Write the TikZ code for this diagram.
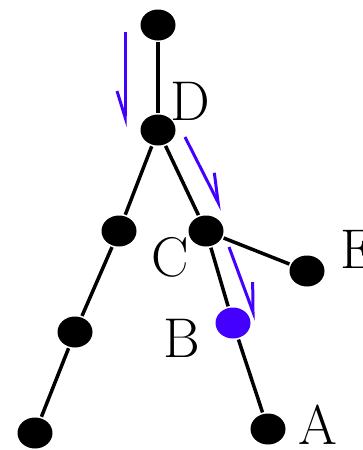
\documentclass[tikz,border=0pt]{standalone}
\usetikzlibrary{arrows.meta,shapes.geometric}
\definecolor{moveblue}{RGB}{68,0,255}
\tikzset{every picture/.style={line width=3.5pt}}
\tikzset{
	vtx/.style={ellipse,fill=black,inner sep=0pt,minimum width=35pt,minimum height=31pt},
	vtxblue/.style={vtx,fill=moveblue},
	lbl/.style={anchor=base,inner sep=0pt,font=\fontsize{56}{60}\selectfont},
	move/.style={draw=moveblue,line width=3pt,-{Straight Barb[harpoon,length=28pt,width=20pt]}},
	moveswap/.style={move,-{Straight Barb[harpoon,swap,length=26pt,width=16pt]}}}
\begin{document}
\begin{tikzpicture}[x=1pt,y=1pt,yscale=-1,xscale=1]
	\useasboundingbox (0,0) rectangle (363,450);

	%Shape: vertices
	\node[vtx] (top) at (158,25) {};
	\node[vtx] (d) at (158,130) {};
	\node[vtx] (l1) at (119,231) {};
	\node[vtx] (l2) at (75,332) {};
	\node[vtx] (l3) at (35,433) {};
	\node[vtx] (c) at (206,231) {};
	\node[vtx] (e) at (307,271) {};
	\node[vtxblue] (b) at (233,323) {};
	\node[vtx] (a) at (268,429) {};

	%Straight Lines: edges
	\draw (top) -- (d);
	\draw (d) -- (l1) -- (l2) -- (l3);
	\draw (d) -- (c) -- (e);
	\draw (c) -- (b) -- (a);

	%Straight Lines: blue moves
	\coordinate (m1s) at (125,32);
	\coordinate (m1e) at (125,127);
	\coordinate (m2s) at (185,137);
	\coordinate (m2e) at (222,210);
	\coordinate (m3s) at (229,247);
	\coordinate (m3e) at (256,320);
	\draw[moveswap] (m1s) -- (m1e);
	\draw[move] (m2s) -- (m2e);
	\draw[move] (m3s) -- (m3e);

	% Text Node
	\node[lbl] (dlabel) at (190,120) {D};
	% Text Node
	\node[lbl] (clabel) at (170,276) {C};
	% Text Node
	\node[lbl] (elabel) at (358,268) {E};
	% Text Node
	\node[lbl] (blabel) at (182,357) {B};
	% Text Node
	\node[lbl] (alabel) at (318,444) {A};

\end{tikzpicture}
\end{document}
